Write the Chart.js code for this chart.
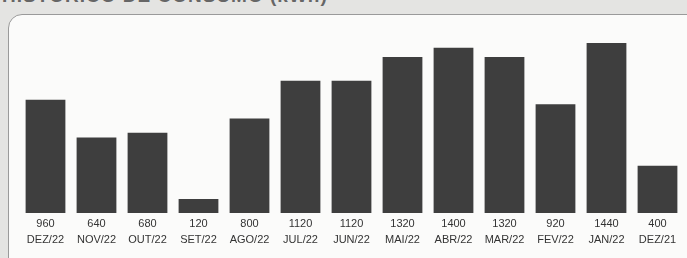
<!DOCTYPE html>
<html>
<head>
<meta charset="utf-8">
<script src="https://cdn.jsdelivr.net/npm/chart.js@4/dist/chart.umd.min.js"></script>
<style>
  html, body { margin:0; padding:0; }
  body { width:687px; height:258px; background:#e4e4e2; position:relative; overflow:hidden; font-family:"Liberation Sans", Arial, sans-serif; }
  #title { position:absolute; left:2px; top:-15px; font-size:19px; font-weight:bold; color:#666; letter-spacing:1px; white-space:nowrap; }
  #box { position:absolute; left:8px; top:14px; width:700px; height:270px; background:#fbfbfa; border:1.5px solid #9a9a9a; border-radius:14px; }
  #wrap { position:absolute; left:0; top:0; width:687px; height:258px; }
</style>
</head>
<body>
<div id="title">HISTÓRICO DE CONSUMO (kWh)</div>
<div id="box"></div>
<div id="wrap"><canvas id="c"></canvas></div>
<script>
const categories = ["DEZ/22","NOV/22","OUT/22","SET/22","AGO/22","JUL/22","JUN/22","MAI/22","ABR/22","MAR/22","FEV/22","JAN/22","DEZ/21"];
const consumo = [960, 640, 680, 120, 800, 1120, 1120, 1320, 1400, 1320, 920, 1440, 400];

const tickLabels = categories.map((c, i) => [String(consumo[i]), c]);

new Chart(document.getElementById('c'), {
  type: 'bar',
  data: {
    labels: tickLabels,
    datasets: [{
      data: consumo,
      backgroundColor: '#3e3e3e',
      borderWidth: 0,
      barPercentage: 0.78,
      categoryPercentage: 1.0
    }]
  },
  options: {
    responsive: true,
    maintainAspectRatio: false,
    animation: false,
    layout: { padding: { left: 20, right: 4, top: 24, bottom: 7 } },
    plugins: { legend: { display: false }, tooltip: { enabled: false } },
    scales: {
      x: {
        grid: { display: false, drawTicks: false },
        border: { display: false },
        ticks: {
          color: '#333',
          font: { family: '"Liberation Sans", Arial, sans-serif', size: 11, lineHeight: 1.45 },
          padding: 3,
          maxRotation: 0,
          autoSkip: false
        }
      },
      y: {
        display: false,
        min: 0,
        max: 1600
      }
    }
  }
});
</script>
</body>
</html>
